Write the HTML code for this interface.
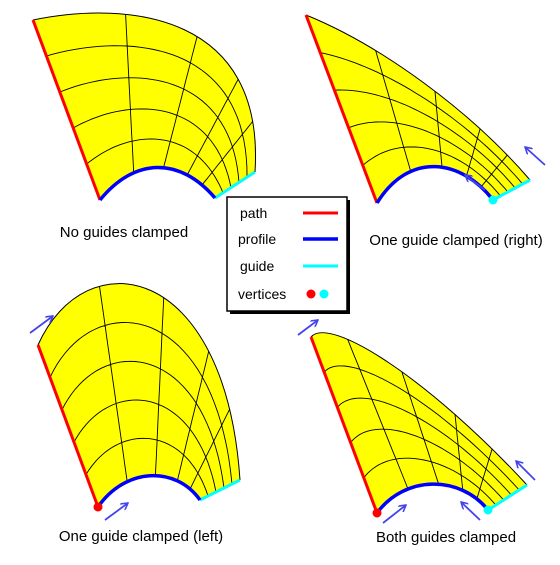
<!DOCTYPE html>
<html><head><meta charset="utf-8"><style>
html,body{margin:0;padding:0;background:#fff;}
svg{display:block;font-family:"Liberation Sans",Arial,sans-serif;}
</style></head><body>
<svg id="fig" width="560" height="565" viewBox="0 0 560 565">
<defs><marker id="ah" markerWidth="8" markerHeight="8" refX="7" refY="4" orient="auto" markerUnits="userSpaceOnUse"><path d="M0,0 L7,4 L0,8" fill="none" stroke="#4444ee" stroke-width="1.6"/></marker></defs>
<g id="panels"></g>
<g>
<rect x="230" y="200" width="120" height="114" fill="#000"/>
<rect x="227" y="197" width="120" height="114" fill="#fff" stroke="#000" stroke-width="1.5"/>
<text x="240" y="218" font-size="14">path</text>
<line x1="303" y1="213" x2="338" y2="213" stroke="#f00" stroke-width="3"/>
<text x="238" y="244" font-size="14">profile</text>
<line x1="303" y1="239" x2="338" y2="239" stroke="#00f" stroke-width="3.5"/>
<text x="240" y="271" font-size="14">guide</text>
<line x1="303" y1="266" x2="338" y2="266" stroke="#0ff" stroke-width="3"/>
<text x="238" y="299" font-size="14">vertices</text>
<circle cx="311" cy="294" r="4.5" fill="#f00"/><circle cx="324" cy="294" r="4.5" fill="#0ff"/>
</g>
<text x="124" y="237" font-size="15" text-anchor="middle">No guides clamped</text>
<text x="456" y="245" font-size="15" text-anchor="middle">One guide clamped (right)</text>
<text x="141" y="541" font-size="15" text-anchor="middle">One guide clamped (left)</text>
<text x="446" y="542" font-size="15" text-anchor="middle">Both guides clamped</text>
</svg>
<script>
// bottom (profile) cubic, top cubic, guide end points
const bottoms=[[[100,200],[135,157],[180,157],[215,198]],[[377,203],[410,150],[462,160],[493,200]],[[98,507],[125,468],[175,465],[200,500]],[[377,513],[405,475],[460,475],[488,510]]];
const tops=[[[33,20],[130,0],[265,15],[255,172]],[[306,15],[380,45],[470,110],[530,180]],[[38,345],[85,240],[225,260],[240,480]],[[311,337],[330,315],[430,380],[527,485]]];
const rowsV=[0.2,0.4,0.6,0.8];
const colsU=[0.3,0.55,0.75,0.88];
const redDots=[false,false,true,true];
const cyanDots=[false,true,false,true];
const arrows=[[],[[545,165,525,147],[485,190,465,175]],[[30,333,53,316],[105,520,128,503]],[[298,335,318,320],[383,523,406,505],[480,520,461,502],[535,480,516,461]]];
const NS='http://www.w3.org/2000/svg';
function bez(c,t){const m=1-t;return [m*m*m*c[0][0]+3*m*m*t*c[1][0]+3*m*t*t*c[2][0]+t*t*t*c[3][0],m*m*m*c[0][1]+3*m*m*t*c[1][1]+3*m*t*t*c[2][1]+t*t*t*c[3][1]];}
function S(i,u,v){const b=bez(bottoms[i],u),t=bez(tops[i],u);return [(1-v)*b[0]+v*t[0],(1-v)*b[1]+v*t[1]];}
function mk(tag,attrs,parent){const e=document.createElementNS(NS,tag);for(const k in attrs)e.setAttribute(k,attrs[k]);parent.appendChild(e);return e;}
function cub(c){return 'M'+c[0]+' C'+c[1]+' '+c[2]+' '+c[3];}
const g=document.getElementById('panels');
for(let i=0;i<4;i++){
 const b=bottoms[i],t=tops[i];
 const pg=mk('g',{},g);
 
 
 const surf=mk('path',{d:cub(b)+' L'+t[3]+' C'+t[2]+' '+t[1]+' '+t[0]+' Z',fill:'#ffff00',stroke:'none'},pg);
 
 
 let d='';
 rowsV.forEach(v=>{for(let k=0;k<=40;k++){const p=S(i,k/40,v);d+=(k?'L':'M')+p[0].toFixed(1)+','+p[1].toFixed(1);}});
 colsU.forEach(u=>{for(let k=0;k<=20;k++){const p=S(i,u,k/20);d+=(k?'L':'M')+p[0].toFixed(1)+','+p[1].toFixed(1);}});
 const grid=mk('path',{d:d,fill:'none',stroke:'#000','stroke-width':0.9},pg);
 
 
 const top=mk('path',{d:cub(t),fill:'none',stroke:'#000','stroke-width':1},pg);
 
 
 const pth=mk('line',{x1:t[0][0],y1:t[0][1],x2:b[0][0],y2:b[0][1],stroke:'#f00','stroke-width':3},pg);
 
 
 const gd=mk('line',{x1:b[3][0],y1:b[3][1],x2:t[3][0],y2:t[3][1],stroke:'#0ff','stroke-width':3},pg);
 
 
 const pr=mk('path',{d:cub(b),fill:'none',stroke:'#0000ff','stroke-width':3.5},pg);
 
 
 if(redDots[i]){const c=mk('circle',{cx:b[0][0],cy:b[0][1],r:4.5,fill:'#f00'},pg);
  
  }
 if(cyanDots[i]){const c=mk('circle',{cx:b[3][0],cy:b[3][1],r:4.5,fill:'#0ff'},pg);
  
  }
 arrows[i].forEach(a=>{const l=mk('line',{x1:a[0],y1:a[1],x2:a[2],y2:a[3],stroke:'#4444ee','stroke-width':1.8,'marker-end':'url(#ah)'},pg);
  
  });
}
</script>
</body></html>
